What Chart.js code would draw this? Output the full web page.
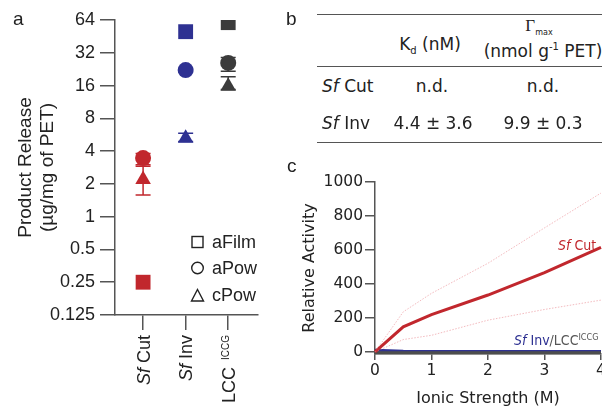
<!DOCTYPE html>
<html>
<head>
<meta charset="utf-8">
<script src="https://cdn.jsdelivr.net/npm/chart.js@4.4.1/dist/chart.umd.min.js"></script>
<style>
  body { margin: 0; background: #fff; }
  #page { position: relative; width: 602px; height: 412px; overflow: hidden; background: #fff;
          font-family: 'Liberation Sans', Arial, sans-serif; color: #222; }
  .abs { position: absolute; white-space: nowrap; }
  .panel { font-size: 19px; line-height: 20px; }
  .tbl { font-family: 'DejaVu Sans', Verdana, sans-serif; font-size: 17px; line-height: 20px; color: #222; }
  .rule { position: absolute; left: 317px; width: 285px; border-top: 1.5px solid #555; }
  .note { font-family: 'DejaVu Sans Condensed', 'DejaVu Sans', Verdana, sans-serif; font-size: 14px; line-height: 16px; }
  #boxA { left: 0; top: 0; }
  #boxC { left: 295px; top: 150px; }
</style>
</head>
<body>
<div id="page">
  <div class="abs" id="boxA"><canvas id="chartA" width="300" height="412"></canvas></div>
  <div class="abs" id="boxC"><canvas id="chartC" width="340" height="262"></canvas></div>

  <div class="abs panel" style="left:13px; top:9px;">a</div>
  <div class="abs panel" style="left:286px; top:9px;">b</div>
  <div class="abs panel" style="left:287px; top:156px;">c</div>

  <!-- panel b: table -->
  <div class="rule" style="top:14px;"></div>
  <div class="rule" style="top:66px;"></div>
  <div class="rule" style="top:142px;"></div>
  <div class="abs tbl" style="left:380px; width:100px; top:34px; text-align:center;">K<sub style="font-size:10px;">d</sub> (nM)</div>
  <div class="abs" style="left:489px; width:100px; top:17px; text-align:center; font-family:'Liberation Serif',serif; font-size:17px; line-height:18px;">&Gamma;<sub style="font-family:'DejaVu Sans',sans-serif; font-size:8px;">max</sub></div>
  <div class="abs tbl" style="left:480px; width:126px; top:37px; text-align:center;">(nmol g<sup style="font-size:10px;">-1</sup> PET)</div>
  <div class="abs tbl" style="left:322px; top:76px;"><i>Sf</i> Cut</div>
  <div class="abs tbl" style="left:382px; width:100px; top:76px; text-align:center;">n.d.</div>
  <div class="abs tbl" style="left:493px; width:100px; top:76px; text-align:center;">n.d.</div>
  <div class="abs tbl" style="left:322px; top:113px;"><i>Sf</i> Inv</div>
  <div class="abs tbl" style="left:383px; width:100px; top:113px; text-align:center;">4.4 &plusmn; 3.6</div>
  <div class="abs tbl" style="left:493px; width:100px; top:113px; text-align:center;">9.9 &plusmn; 0.3</div>

  <!-- panel c annotations -->
  <div class="abs note" style="left:558px; top:237px; color:#c1272d;"><i>Sf</i> Cut</div>
  <div class="abs note" style="left:514px; top:329px; color:#555;"><span style="color:#2e3192;"><i>Sf</i> Inv</span>/LCC<sup style="font-size:9px; vertical-align:5px;">ICCG</sup></div>
</div>

<script>
// ---- panel a data ----
const enzymes = ['Sf Cut', 'Sf Inv', 'LCC ICCG'];
const enzymeColors = ['#c1272d', '#2e3192', '#3b3b3b'];
const aFilm = [0.25, 50, 60.5];
const aPow = [3.45, 22.2, 25.8];
const aPowErr = [[3.0, 3.8], [21.4, 23.0], [21.7, 28.9]];
const cPow = [2.2, 5.25, 15.8];
const cPowErr = [[1.58, 2.9], [4.9, 5.85], [14.7, 19.3]];
const yTicksA = [0.125, 0.25, 0.5, 1, 2, 4, 8, 16, 32, 64];
const legendItems = ['aFilm', 'aPow', 'cPow'];

// ---- panel c data ----
const ionic = [0, 0.5, 1, 2, 3, 4];
const sfCutAct = [0, 148, 220, 335, 467, 615];
const sfCutHi = [0, 236, 345, 522, 730, 935];
const sfCutLo = [0, 73, 98, 187, 250, 305];
const sfInvAct = [10, 4, 3, 3, 3, 3];
const lccAct = [-4, -5, -5, -5, -5, -5];
const yTicksC = [0, 200, 400, 600, 800, 1000];
const xTicksC = [0, 1, 2, 3, 4];

const axisGrey = '#555';
const fontA = "'Liberation Sans', Arial, sans-serif";
const fontC = "'DejaVu Sans', Verdana, sans-serif";

const pts = arr => arr.map((v, i) => ({ x: i + 1, y: v }));
const xy = (xs, ys) => xs.map((x, i) => ({ x: x, y: ys[i] }));

// error bars drawn under the markers
const errorBars = {
  id: 'errorBars',
  beforeDatasetsDraw(chart) {
    const { ctx, scales: { x, y } } = chart;
    ctx.save();
    ctx.lineWidth = 1.5;
    [aPowErr, cPowErr].forEach(errs => {
      errs.forEach((e, i) => {
        const px = x.getPixelForValue(i + 1);
        const lo = y.getPixelForValue(e[0]);
        const hi = y.getPixelForValue(e[1]);
        ctx.strokeStyle = enzymeColors[i];
        ctx.beginPath();
        ctx.moveTo(px, lo); ctx.lineTo(px, hi);
        ctx.moveTo(px - 7.5, lo); ctx.lineTo(px + 7.5, lo);
        ctx.moveTo(px - 7.5, hi); ctx.lineTo(px + 7.5, hi);
        ctx.stroke();
      });
    });
    ctx.restore();
  }
};

// rotated category labels + open-symbol legend
const labelParts = [
  [{ t: 'Sf', st: 'italic ' }, { t: ' Cut', st: '' }],
  [{ t: 'Sf', st: 'italic ' }, { t: ' Inv', st: '' }],
  [{ t: 'LCC', st: '' }, { t: 'ICCG', st: '', sup: true, gap: 7 }]
];
const decorA = {
  id: 'decorA',
  afterDraw(chart) {
    const { ctx, scales: { x } } = chart;
    ctx.save();
    ctx.fillStyle = '#222';
    labelParts.forEach((parts, i) => {
      const px = x.getPixelForValue(i + 1);
      let total = 0;
      const widths = parts.map(p => {
        ctx.font = p.st + (p.sup ? '10px ' : '18px ') + fontA;
        const w = ctx.measureText(p.t).width + (p.gap || 0);
        total += w;
        return w;
      });
      ctx.save();
      ctx.translate(px, 335);
      ctx.rotate(-Math.PI / 2);
      ctx.textBaseline = 'alphabetic';
      ctx.textAlign = 'left';
      let cx = -total;
      parts.forEach((p, k) => {
        ctx.font = p.st + (p.sup ? '10px ' : '18px ') + fontA;
        ctx.fillText(p.t, cx + (p.gap || 0), p.sup ? 0.8 : 6.5);
        cx += widths[k];
      });
      ctx.restore();
    });

    // legend
    ctx.strokeStyle = '#222';
    ctx.lineWidth = 1.4;
    ctx.font = '18px ' + fontA;
    ctx.textBaseline = 'middle';
    const ys = [242, 268, 295];
    ctx.strokeRect(192, 236.5, 11, 11);
    ctx.beginPath(); ctx.arc(197.5, 268, 5.8, 0, Math.PI * 2); ctx.stroke();
    ctx.beginPath(); ctx.moveTo(197.5, 289.5); ctx.lineTo(203.5, 301); ctx.lineTo(191.5, 301); ctx.closePath(); ctx.stroke();
    legendItems.forEach((t, i) => ctx.fillText(t, 212, ys[i] + 1));
    ctx.restore();
  }
};

new Chart(document.getElementById('chartA'), {
  type: 'scatter',
  data: {
    datasets: [
      { label: 'aFilm', data: pts(aFilm), pointStyle: 'rect', pointRadius: 10.5 },
      { label: 'aPow', data: pts(aPow), pointStyle: 'circle', pointRadius: 8 },
      { label: 'cPow', data: pts(cPow), pointStyle: 'triangle', pointRadius: 9 }
    ].map(d => Object.assign(d, {
      pointBackgroundColor: enzymeColors,
      pointBorderColor: enzymeColors,
      pointBorderWidth: 0,
      pointHoverRadius: d.pointRadius
    }))
  },
  options: {
    responsive: false,
    animation: false,
    layout: { padding: { left: 0, top: 20, right: 42, bottom: 0 } },
    plugins: { legend: { display: false }, tooltip: { enabled: false } },
    scales: {
      x: {
        type: 'linear', min: 0.34, max: 3.7,
        afterBuildTicks: s => { s.ticks = [1, 2, 3].map(v => ({ value: v })); },
        afterFit: s => { s.height = 97; },
        ticks: { display: false },
        grid: { drawOnChartArea: false, tickLength: 15, color: axisGrey, lineWidth: 1.5 },
        border: { color: axisGrey, width: 1.5 }
      },
      y: {
        type: 'logarithmic', min: 0.125, max: 64,
        afterBuildTicks: s => { s.ticks = yTicksA.map(v => ({ value: v })); },
        afterFit: s => { s.width = 115; },
        ticks: { autoSkip: false, padding: 5, color: '#222', font: { family: fontA, size: 18 },
                 callback: v => String(v) },
        grid: { drawOnChartArea: false, tickLength: 15, color: axisGrey, lineWidth: 1.5 },
        border: { color: axisGrey, width: 1.5 },
        title: { display: true, text: ['Product Release', '(\u00b5g/mg of PET)'], color: '#222',
                 font: { family: fontA, size: 19, lineHeight: 1.2 }, padding: { top: 14, bottom: 0 } }
      }
    }
  },
  plugins: [errorBars, decorA]
});

const band = (ys) => ({
  data: xy(ionic, ys), borderColor: 'rgba(232, 120, 128, 0.5)', borderWidth: 1,
  borderDash: [1.5, 1.5], pointRadius: 0, tension: 0
});

new Chart(document.getElementById('chartC'), {
  type: 'line',
  data: {
    datasets: [
      band(sfCutHi),
      band(sfCutLo),
      { label: 'Sf Cut', data: xy(ionic, sfCutAct), borderColor: '#c1272d', borderWidth: 3, pointRadius: 0, tension: 0 },
      { label: 'LCC', data: xy(ionic, lccAct), borderColor: '#4d4d4d', borderWidth: 3, pointRadius: 0, tension: 0 },
      { label: 'Sf Inv', data: xy(ionic, sfInvAct), borderColor: '#2e3192', borderWidth: 3, pointRadius: 0, tension: 0 }
    ]
  },
  options: {
    responsive: false,
    animation: false,
    clip: false,
    layout: { padding: { left: 0, top: 32, right: 34, bottom: 0 } },
    plugins: { legend: { display: false }, tooltip: { enabled: false } },
    scales: {
      x: {
        type: 'linear', min: 0, max: 4,
        afterBuildTicks: s => { s.ticks = xTicksC.map(v => ({ value: v })); },
        afterFit: s => { s.height = 58; },
        ticks: { padding: 2, color: '#222', font: { family: fontC, size: 15.5 }, callback: v => String(v) },
        grid: { drawOnChartArea: false, tickLength: 6, color: axisGrey, lineWidth: 1.5 },
        border: { color: axisGrey, width: 1.5 },
        title: { display: true, text: 'Ionic Strength (M)', color: '#222',
                 font: { family: fontC, size: 16, lineHeight: 1.2 }, padding: { top: 0, bottom: 4 } }
      },
      y: {
        min: -12, max: 1000,
        afterBuildTicks: s => { s.ticks = yTicksC.map(v => ({ value: v })); },
        afterFit: s => { s.width = 80; },
        ticks: { padding: 2, color: '#222', font: { family: fontC, size: 15.5 }, callback: v => String(v) },
        grid: { drawOnChartArea: false, tickLength: 10, color: axisGrey, lineWidth: 1.5 },
        border: { color: axisGrey, width: 1.5 },
        title: { display: true, text: 'Relative Activity', color: '#222',
                 font: { family: fontC, size: 16, lineHeight: 1.2 }, padding: { top: 5, bottom: 0 } }
      }
    }
  }
});
</script>
</body>
</html>
